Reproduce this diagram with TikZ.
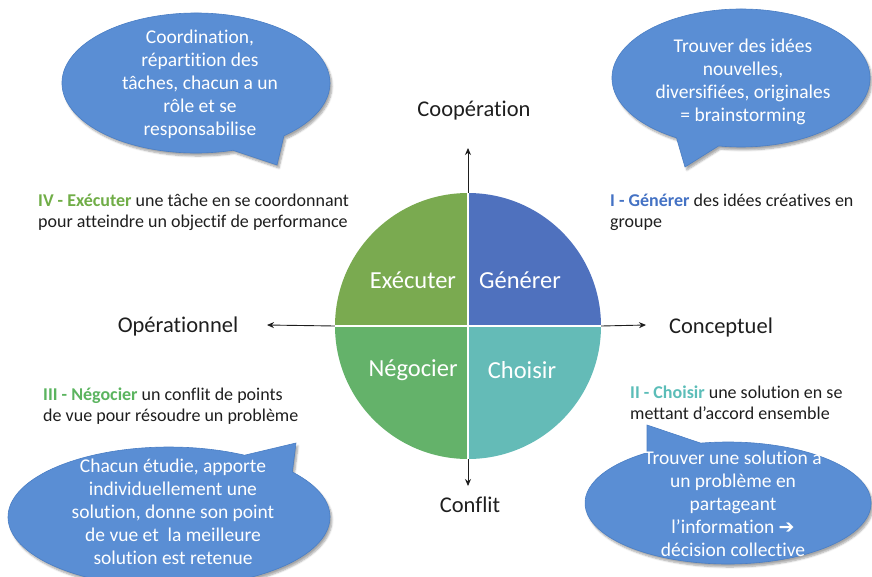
\documentclass[tikz,border=0pt]{standalone}
\usepackage{fontspec}
\setmainfont[Ligatures=NoCommon]{Carlito}
\newfontfamily\symfont{DejaVu Sans}
\usetikzlibrary{arrows.meta,shadows.blur}
\definecolor{bubblefill}{HTML}{5A8ED4}
\definecolor{bubbleline}{HTML}{4A7EC4}
\definecolor{qgen}{HTML}{4F71BE}
\definecolor{qexe}{HTML}{7AAA50}
\definecolor{qneg}{HTML}{64B26A}
\definecolor{qcho}{HTML}{64BBB7}
\definecolor{lexe}{HTML}{70AD47}
\definecolor{lgen}{HTML}{4472C4}
\definecolor{lneg}{HTML}{5BB45F}
\definecolor{lcho}{HTML}{5BBDB8}
\definecolor{ink}{HTML}{1E1E1E}
\tikzset{
  bubble/.style={fill=bubblefill, draw=bubbleline, line width=0.6pt,
    blur shadow={shadow xshift=2pt, shadow yshift=-3pt, shadow blur steps=6, shadow opacity=35}},
  bubbletext/.style={text=white, align=center, inner sep=0pt,
    font=\fontsize{19.5}{23}\selectfont},
  desc/.style={text=ink, align=left, anchor=west, inner sep=0pt,
    font=\fontsize{18}{21}\selectfont},
  axislabel/.style={text=ink, inner sep=0pt, font=\fontsize{22.5}{24}\selectfont},
  quadlabel/.style={text=white, inner sep=0pt, font=\fontsize{24.5}{26}\selectfont},
  axisarrow/.style={-{Stealth[length=7pt,width=6pt]}, line width=0.9pt, ink},
}
\begin{document}
\begin{tikzpicture}[x=1pt,y=-1pt]
\useasboundingbox (0,0) rectangle (872,576);
% ---- circle quadrants
\coordinate (c) at (468,326);
\fill[qgen] (c) -- ++(0,-133) arc[start angle=-90, end angle=0, radius=133] -- cycle;
\fill[qcho] (c) -- ++(133,0) arc[start angle=0, end angle=90, radius=133] -- cycle;
\fill[qneg] (c) -- ++(0,133) arc[start angle=90, end angle=180, radius=133] -- cycle;
\fill[qexe] (c) -- ++(-133,0) arc[start angle=180, end angle=270, radius=133] -- cycle;
\node[circle, minimum size=266pt, inner sep=0pt] (C) at (c) {};
\draw[white, line width=1.6pt] (C.north) -- (C.south) (C.west) -- (C.east);
\node[quadlabel] (exe) at (413,280) {Exécuter};
\node[quadlabel] (gen) at (520,280) {Générer};
\node[quadlabel] (neg) at (413,370) {Négocier};
\node[quadlabel] (cho) at (522,370) {Choisir};
% ---- axes
\coordinate (up) at (468,148);
\coordinate (down) at (468,486);
\coordinate (left) at (267,325);
\coordinate (right) at (646,325);
\draw[axisarrow] (C.north) -- (up);
\draw[axisarrow] (C.south) -- (down);
\draw[axisarrow] (C.west) -- (left);
\draw[axisarrow] (C.east) -- (right);
\node[axislabel] (coop) at (474,111) {Coopération};
\node[axislabel] (confl) at (470,505) {Conflit};
\node[axislabel] (oper) at (178,326) {Opérationnel};
\node[axislabel] (conc) at (721,327) {Conceptuel};
% ---- descriptions
\node[desc] (dIV) at (38,212.5) {{\bfseries\color{lexe}IV - Exécuter} une tâche en se coordonnant\\pour atteindre un objectif de performance};
\node[desc] (dI) at (610,212.5) {{\bfseries\color{lgen}I - Générer} des idées créatives en\\groupe};
\node[desc] (dIII) at (43,406) {{\bfseries\color{lneg}III - Négocier} un conflit de points\\de vue pour résoudre un problème};
\node[desc] (dII) at (630,402.5) {{\bfseries\color{lcho}II - Choisir} une solution en se\\mettant d'accord ensemble};
% ---- bubbles
% top-left
\filldraw[bubble] (196,83) ++(74:134 and 70) arc[start angle=74, end angle=409, x radius=134, y radius=70] -- (277,165) -- cycle;
\node[bubbletext] (b1) at (200,84.5) {Coordination,\\répartition des\\tâches, chacun a un\\rôle et se\\responsabilise};
% top-right
\filldraw[bubble] (741,78) ++(120:129 and 69) arc[start angle=120, end angle=460, x radius=129, y radius=69] -- (685,167) -- cycle;
\node[bubbletext] (b2) at (743,82) {Trouver des idées\\nouvelles,\\diversifiées, originales\\= brainstorming};
% bottom-left
\filldraw[bubble] (169,517) ++(-40:161 and 70) arc[start angle=-40, end angle=298, x radius=161, y radius=70] -- (296,443) -- cycle;
\node[bubbletext] (b3) at (173,512) {Chacun étudie, apporte\\individuellement une\\solution, donne son point\\de vue et\ \ la meilleure\\solution est retenue};
% bottom-right
\filldraw[bubble] (728,503) ++(259:143 and 61) arc[start angle=259, end angle=595.5, x radius=143, y radius=61] -- (647,425) -- cycle;
\node[bubbletext] (b4) at (733,504) {Trouver une solution à\\un problème en\\partageant\\l’information {\symfont\bfseries\fontsize{19}{23}\selectfont ➔}\\décision collective};
\end{tikzpicture}
\end{document}
